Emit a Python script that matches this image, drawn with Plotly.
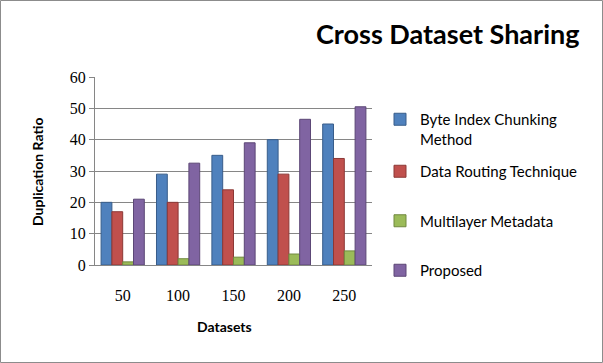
import plotly.graph_objects as go

categories = ["50", "100", "150", "200", "250"]
byte_index = [20, 29, 35, 40, 45]
data_routing = [17, 20, 24, 29, 34]
multilayer = [1, 2, 2.5, 3.5, 4.5]
proposed = [21, 32.5, 39, 46.5, 50.5]

series = [
    ("Byte Index Chunking<br>Method", byte_index, "#4F81BD", "#385D8A", "legend"),
    ("Data Routing Technique", data_routing, "#C0504D", "#8C3836", "legend2"),
    ("Multilayer Metadata", multilayer, "#9BBB59", "#71893F", "legend2"),
    ("Proposed", proposed, "#8064A2", "#5C4776", "legend2"),
]

W, H = 603, 363
L, R, T, B = 95, 231, 77, 98
pw, ph = W - L - R, H - T - B

def px(x):
    return (x - L) / pw

def py(y):
    return (H - B - y) / ph

fig = go.Figure()
for i, (name, vals, col, dark, leg) in enumerate(series):
    fig.add_trace(go.Bar(
        x=categories, y=vals, name=name,
        marker=dict(color=col, line=dict(color=dark, width=1)),
        legendgroup=str(i), legend=leg,
    ))

font_body = "Lato, 'Open Sans', sans-serif"
leg_common = dict(
    xanchor="left", yanchor="top",
    font=dict(family=font_body, size=15, color="black"),
    valign="top", itemwidth=30, bgcolor="rgba(0,0,0,0)",
)
fig.update_layout(
    width=W, height=H,
    margin=dict(l=L, r=R, t=T, b=B, autoexpand=False),
    paper_bgcolor="white", plot_bgcolor="white",
    barmode="group", bargap=0.22, bargroupgap=0.0,
    showlegend=True,
    legend=dict(x=px(380), y=py(103), tracegroupgap=0, **leg_common),
    legend2=dict(x=px(380), y=py(155), tracegroupgap=27, **leg_common),
    xaxis=dict(
        type="category", showgrid=False, showline=True, linecolor="#868686",
        tickfont=dict(family="'Liberation Serif', serif", size=16, color="black"),
        ticks="", ticklabelstandoff=16,
    ),
    yaxis=dict(
        range=[0, 60], dtick=10, showgrid=True, gridcolor="#868686", gridwidth=1,
        showline=True, linecolor="#868686", ticks="outside", ticklen=5,
        tickcolor="#868686",
        tickfont=dict(family="'Liberation Serif', serif", size=16, color="black"),
        zeroline=False,
    ),
    annotations=[
        dict(text="<b>Cross Dataset Sharing</b>", x=px(447), y=py(34), xref="paper", yref="paper",
             xanchor="center", yanchor="middle",
             showarrow=False, font=dict(family=font_body, size=27, color="black")),
        dict(text="<b>Duplication Ratio</b>", x=px(37), y=py(172), xref="paper", yref="paper",
             xanchor="center", yanchor="middle",
             showarrow=False, textangle=-90, font=dict(family=font_body, size=14, color="black")),
        dict(text="<b>Datasets</b>", x=px(224), y=py(326), xref="paper", yref="paper",
             xanchor="center", yanchor="middle",
             showarrow=False, font=dict(family=font_body, size=14, color="black")),
    ],
    shapes=[
        dict(type="rect", xref="paper", yref="paper",
             x0=px(0.5), x1=px(602.5), y0=py(0.5), y1=py(362.5),
             line=dict(color="#8C8C8C", width=1), layer="below"),
    ],
)

fig.write_html("out.html", config={"displayModeBar": False},
               post_script="document.body.style.margin='0';")
